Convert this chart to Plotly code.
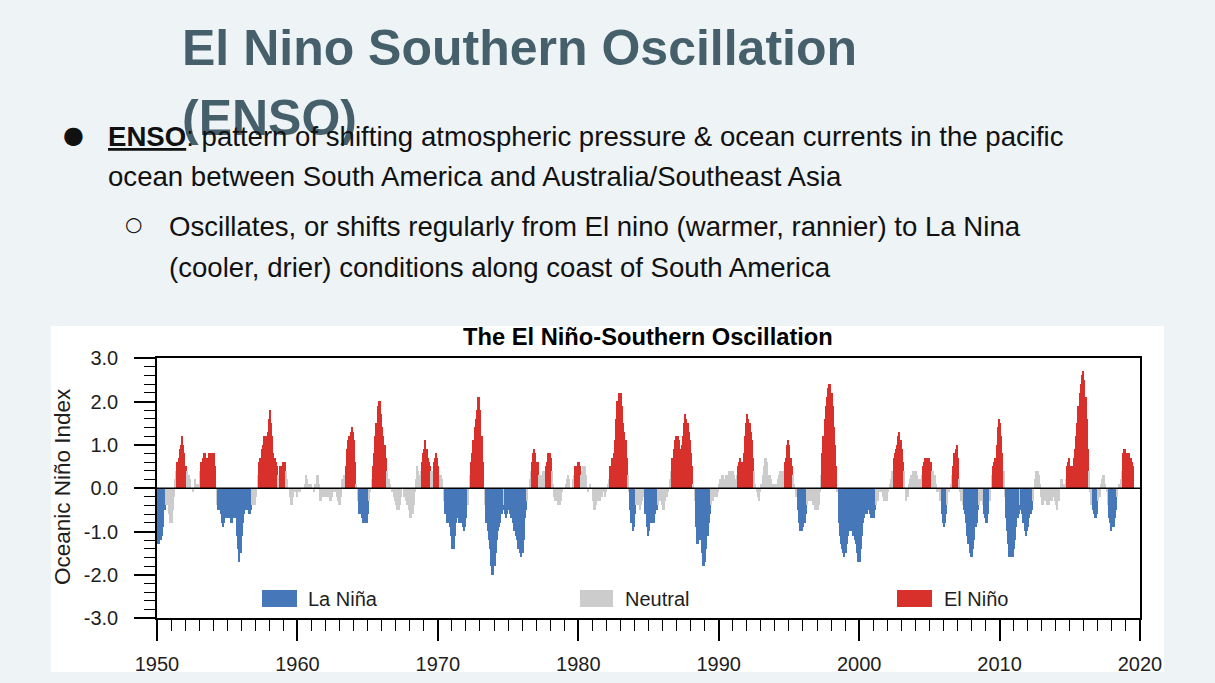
import plotly.graph_objects as go

# Oceanic Niño Index, 3-month running means (DJF ... NDJ)
oni_1950s = [
    -1.3, -1.3, -1.2, -1.2, -1.1, -0.9, -0.5, -0.4, -0.4, -0.4, -0.6, -0.8,
    -0.8, -0.5, -0.2, 0.2, 0.4, 0.6, 0.7, 0.9, 1.0, 1.2, 1.0, 0.8,
    0.5, 0.4, 0.3, 0.3, 0.2, 0.0, -0.1, 0.0, 0.2, 0.1, 0.0, 0.1,
    0.4, 0.6, 0.6, 0.7, 0.8, 0.8, 0.7, 0.7, 0.8, 0.8, 0.8, 0.8,
    0.8, 0.5, 0.0, -0.4, -0.5, -0.5, -0.6, -0.8, -0.9, -0.8, -0.7, -0.7,
    -0.7, -0.6, -0.7, -0.8, -0.8, -0.7, -0.7, -0.7, -1.1, -1.4, -1.7, -1.5,
    -1.1, -0.8, -0.6, -0.5, -0.5, -0.5, -0.6, -0.6, -0.5, -0.4, -0.4, -0.4,
    -0.2, 0.0, 0.3, 0.6, 0.7, 0.9, 1.0, 1.2, 1.1, 1.2, 1.3, 1.6,
    1.8, 1.5, 1.2, 0.8, 0.7, 0.6, 0.5, 0.3, 0.3, 0.5, 0.5, 0.6,
    0.6, 0.6, 0.4, 0.2, 0.0, -0.2, -0.4, -0.4, -0.2, -0.1, -0.1, -0.2,
]
oni_1960s = [
    -0.1, -0.1, -0.1, 0.0, 0.0, 0.0, 0.1, 0.3, 0.2, 0.1, 0.1, 0.1,
    0.0, 0.0, -0.1, 0.1, 0.3, 0.3, 0.1, -0.3, -0.3, -0.2, -0.1, -0.2,
    -0.2, -0.2, -0.2, -0.3, -0.3, -0.2, 0.0, -0.1, -0.1, -0.2, -0.3, -0.4,
    -0.4, -0.2, 0.2, 0.3, 0.3, 0.5, 0.9, 1.1, 1.2, 1.3, 1.4, 1.3,
    1.1, 0.6, 0.1, -0.3, -0.6, -0.6, -0.6, -0.7, -0.8, -0.8, -0.8, -0.8,
    -0.6, -0.3, -0.1, 0.2, 0.5, 0.8, 1.2, 1.5, 1.9, 2.0, 2.0, 1.7,
    1.4, 1.2, 1.0, 0.7, 0.4, 0.2, 0.2, 0.1, -0.1, -0.1, -0.2, -0.3,
    -0.4, -0.5, -0.5, -0.4, -0.2, 0.0, 0.0, -0.2, -0.3, -0.4, -0.4, -0.5,
    -0.7, -0.7, -0.6, -0.4, -0.1, 0.2, 0.5, 0.4, 0.3, 0.4, 0.6, 0.8,
    0.9, 1.1, 0.9, 0.7, 0.6, 0.5, 0.4, 0.4, 0.6, 0.7, 0.8, 0.7,
]
oni_1970s = [
    0.5, 0.3, 0.3, 0.2, 0.0, -0.3, -0.6, -0.8, -0.8, -0.7, -0.9, -1.1,
    -1.4, -1.4, -1.1, -0.8, -0.7, -0.7, -0.8, -0.8, -0.8, -0.9, -1.0, -0.9,
    -0.7, -0.4, 0.0, 0.3, 0.6, 0.8, 1.1, 1.4, 1.6, 1.8, 2.1, 2.1,
    1.8, 1.2, 0.6, 0.0, -0.4, -0.8, -1.0, -1.2, -1.4, -1.8, -2.0, -2.0,
    -1.8, -1.5, -1.2, -1.0, -0.9, -0.8, -0.6, -0.5, -0.4, -0.6, -0.7, -0.6,
    -0.5, -0.6, -0.7, -0.7, -0.8, -1.0, -1.1, -1.2, -1.4, -1.4, -1.5, -1.6,
    -1.5, -1.2, -0.7, -0.5, -0.3, 0.0, 0.2, 0.4, 0.6, 0.8, 0.9, 0.8,
    0.6, 0.6, 0.3, 0.3, 0.3, 0.4, 0.4, 0.4, 0.5, 0.6, 0.8, 0.8,
    0.7, 0.4, 0.1, -0.2, -0.3, -0.3, -0.4, -0.4, -0.4, -0.3, -0.1, 0.0,
    0.0, 0.1, 0.2, 0.3, 0.2, 0.0, 0.0, 0.2, 0.3, 0.5, 0.5, 0.6,
]
oni_1980s = [
    0.6, 0.5, 0.3, 0.4, 0.5, 0.5, 0.3, 0.0, -0.1, 0.0, 0.1, 0.0,
    -0.3, -0.5, -0.5, -0.4, -0.3, -0.3, -0.3, -0.2, -0.2, -0.1, -0.2, -0.1,
    0.0, 0.1, 0.2, 0.5, 0.7, 0.7, 0.8, 1.1, 1.6, 2.0, 2.2, 2.2,
    2.2, 1.9, 1.5, 1.3, 1.1, 0.7, 0.3, -0.1, -0.5, -0.8, -1.0, -0.9,
    -0.6, -0.4, -0.3, -0.4, -0.5, -0.4, -0.3, -0.2, -0.2, -0.6, -0.9, -1.1,
    -1.0, -0.8, -0.8, -0.8, -0.8, -0.6, -0.5, -0.5, -0.4, -0.3, -0.3, -0.4,
    -0.5, -0.5, -0.3, -0.2, -0.1, 0.0, 0.2, 0.4, 0.7, 0.9, 1.1, 1.2,
    1.2, 1.2, 1.1, 0.9, 1.0, 1.2, 1.5, 1.7, 1.6, 1.5, 1.3, 1.1,
    0.8, 0.5, 0.1, -0.3, -0.9, -1.3, -1.3, -1.1, -1.2, -1.5, -1.8, -1.8,
    -1.7, -1.4, -1.1, -0.8, -0.6, -0.4, -0.3, -0.3, -0.2, -0.2, -0.2, -0.1,
]
oni_1990s = [
    0.1, 0.2, 0.3, 0.3, 0.2, 0.2, 0.3, 0.3, 0.4, 0.3, 0.4, 0.4,
    0.4, 0.3, 0.2, 0.3, 0.5, 0.6, 0.7, 0.6, 0.6, 0.8, 1.2, 1.5,
    1.7, 1.6, 1.5, 1.3, 1.1, 0.7, 0.4, 0.1, -0.1, -0.2, -0.3, -0.1,
    0.1, 0.3, 0.5, 0.7, 0.7, 0.6, 0.3, 0.3, 0.2, 0.1, 0.0, 0.1,
    0.1, 0.1, 0.2, 0.3, 0.4, 0.4, 0.4, 0.4, 0.6, 0.7, 1.0, 1.1,
    1.0, 0.7, 0.5, 0.3, 0.1, 0.0, -0.2, -0.5, -0.8, -1.0, -1.0, -1.0,
    -0.9, -0.8, -0.6, -0.4, -0.3, -0.3, -0.3, -0.3, -0.4, -0.4, -0.5, -0.5,
    -0.5, -0.4, -0.1, 0.3, 0.8, 1.2, 1.6, 1.9, 2.1, 2.3, 2.4, 2.4,
    2.2, 1.9, 1.4, 1.0, 0.5, -0.1, -0.8, -1.1, -1.3, -1.4, -1.5, -1.6,
    -1.5, -1.3, -1.1, -1.0, -1.0, -1.0, -1.1, -1.1, -1.2, -1.3, -1.5, -1.7,
]
oni_2000s = [
    -1.7, -1.4, -1.1, -0.8, -0.7, -0.6, -0.6, -0.5, -0.5, -0.6, -0.7, -0.7,
    -0.7, -0.5, -0.4, -0.3, -0.3, -0.1, -0.1, -0.1, -0.2, -0.3, -0.3, -0.3,
    -0.1, 0.0, 0.1, 0.2, 0.4, 0.7, 0.8, 0.9, 1.0, 1.2, 1.3, 1.1,
    0.9, 0.6, 0.4, 0.0, -0.3, -0.2, 0.1, 0.2, 0.3, 0.3, 0.4, 0.4,
    0.4, 0.3, 0.2, 0.2, 0.2, 0.3, 0.5, 0.6, 0.7, 0.7, 0.7, 0.7,
    0.6, 0.6, 0.4, 0.4, 0.3, 0.1, -0.1, -0.1, -0.1, -0.3, -0.6, -0.8,
    -0.9, -0.8, -0.6, -0.4, -0.1, 0.0, 0.1, 0.3, 0.5, 0.8, 0.9, 1.0,
    0.7, 0.2, -0.1, -0.3, -0.4, -0.5, -0.6, -0.8, -1.1, -1.3, -1.5, -1.6,
    -1.6, -1.4, -1.2, -0.9, -0.8, -0.5, -0.4, -0.3, -0.3, -0.4, -0.6, -0.7,
    -0.8, -0.8, -0.6, -0.3, 0.0, 0.3, 0.5, 0.6, 0.7, 1.0, 1.4, 1.6,
]
oni_2010s = [
    1.5, 1.2, 0.8, 0.4, -0.2, -0.7, -1.0, -1.3, -1.6, -1.6, -1.6, -1.6,
    -1.4, -1.2, -0.9, -0.7, -0.6, -0.4, -0.5, -0.6, -0.8, -1.0, -1.1, -1.0,
    -0.9, -0.7, -0.6, -0.5, -0.3, 0.0, 0.2, 0.4, 0.4, 0.3, 0.1, -0.2,
    -0.4, -0.4, -0.3, -0.3, -0.4, -0.4, -0.4, -0.3, -0.3, -0.2, -0.2, -0.3,
    -0.4, -0.5, -0.3, 0.0, 0.2, 0.2, 0.0, 0.1, 0.2, 0.5, 0.6, 0.7,
    0.5, 0.5, 0.5, 0.7, 0.9, 1.2, 1.5, 1.9, 2.2, 2.4, 2.6, 2.7,
    2.5, 2.1, 1.6, 0.9, 0.4, -0.1, -0.4, -0.5, -0.6, -0.7, -0.7, -0.6,
    -0.3, -0.2, 0.1, 0.2, 0.3, 0.3, 0.1, -0.1, -0.4, -0.7, -0.8, -1.0,
    -0.9, -0.9, -0.7, -0.5, -0.2, 0.0, 0.1, 0.2, 0.4, 0.8, 0.9, 0.9,
    0.8, 0.8, 0.8, 0.7, 0.7, 0.6, 0.5,
]

start_year = 1950
x_ticks = [1950, 1960, 1970, 1980, 1990, 2000, 2010, 2020]
y_ticks = [-3.0, -2.0, -1.0, 0.0, 1.0, 2.0, 3.0]
phase_names = ["La Niña", "Neutral", "El Niño"]
phase_colors = {"La Niña": "#4677b8", "Neutral": "#cccccc", "El Niño": "#d8302a"}

oni = oni_1950s + oni_1960s + oni_1970s + oni_1980s + oni_1990s + oni_2000s + oni_2010s
n = len(oni)
x_time = [start_year + i / 12 + 1 / 24 for i in range(n)]

# classify episodes: 5 or more consecutive seasons beyond +/-0.5
phase = ["Neutral"] * n
for name, test in (("El Niño", lambda v: v >= 0.5), ("La Niña", lambda v: v <= -0.5)):
    i = 0
    while i < n:
        if test(oni[i]):
            j = i
            while j < n and test(oni[j]):
                j += 1
            if j - i >= 5:
                for k in range(i, j):
                    phase[k] = name
            i = j
        else:
            i += 1
colors = [phase_colors[p] for p in phase]

W, H = 1215, 683
def px(x):
    return x / W
def py(y):
    return 1 - y / H

fig = go.Figure()
fig.add_trace(go.Bar(
    x=x_time, y=oni, width=[1 / 12] * n,
    marker=dict(color=colors, line=dict(width=0)),
    showlegend=False, hoverinfo="x+y",
))

chart_font = "Liberation Sans, Arial, Helvetica, sans-serif"
slide_font = "Liberation Sans, Arial, sans-serif"
title_font = "Liberation Sans, Arial, sans-serif"
ink = "#1e1e1e"

fig.update_layout(
    width=W, height=H, autosize=False,
    margin=dict(l=0, r=0, t=0, b=0, pad=0, autoexpand=False),
    paper_bgcolor="#eef3f6",
    plot_bgcolor="white",
    bargap=0, barmode="overlay",
    showlegend=False,
    font=dict(family=chart_font, color=ink),
    xaxis=dict(
        domain=[px(157), px(1140)], range=[1950, 2020], automargin=False,
        tickvals=x_ticks, ticktext=[str(v) for v in x_ticks],
        showline=True, linecolor="black", linewidth=1.6, mirror=True,
        ticks="outside", ticklen=21, tickwidth=1.6, tickcolor="black",
        ticklabelstandoff=6,
        tickfont=dict(size=20, family=chart_font, color=ink),
        showgrid=False, zeroline=False,
        minor=dict(ticks="outside", ticklen=11, tickwidth=1.4, tickcolor="black",
                   dtick=1, tick0=1950, showgrid=False),
    ),
    yaxis=dict(
        domain=[py(618.3), py(358.3)], range=[-3, 3], automargin=False,
        tickvals=y_ticks, ticktext=["%.1f" % v for v in y_ticks],
        showline=True, linecolor="black", linewidth=1.6, mirror=True,
        ticks="outside", ticklen=21, tickwidth=1.6, tickcolor="black",
        ticklabelstandoff=12,
        tickfont=dict(size=20, family=chart_font, color=ink),
        showgrid=False, zeroline=False,
        minor=dict(ticks="outside", ticklen=11, tickwidth=1.4, tickcolor="black",
                   dtick=0.2, tick0=0, showgrid=False),
    ),
)

shapes = [
    # white chart image panel
    dict(type="rect", xref="paper", yref="paper", x0=px(51), x1=px(1164),
         y0=py(672), y1=py(326), fillcolor="white", line=dict(width=0), layer="below"),
    # zero line
    dict(type="line", xref="x", yref="y", x0=1950, x1=2020, y0=0, y1=0,
         line=dict(color="black", width=1.6), layer="above"),
]
annotations = []

# legend boxes inside plot
legend_boxes = [(262, 297, 306), (580, 613, 623), (897, 932, 942)]
for name, (x0, x1, tx) in zip(phase_names, legend_boxes):
    shapes.append(dict(type="rect", xref="paper", yref="paper", x0=px(x0), x1=px(x1),
                       y0=py(607), y1=py(590), fillcolor=phase_colors[name],
                       line=dict(width=0), layer="above"))
    annotations.append(dict(text=name, x=px(tx), y=py(599), xref="paper", yref="paper",
                            xanchor="left", yanchor="middle", showarrow=False,
                            font=dict(size=20, family=chart_font, color=ink)))

# chart title and y-axis title
annotations.append(dict(text="<b>The El Niño-Southern Oscillation</b>", x=px(648), y=py(337),
                        xref="paper", yref="paper", xanchor="center", yanchor="middle",
                        showarrow=False, font=dict(size=23.7, family=chart_font, color="black")))
annotations.append(dict(text="Oceanic Niño Index", x=px(62), y=py(487), textangle=-90,
                        xref="paper", yref="paper", xanchor="center", yanchor="middle",
                        showarrow=False, font=dict(size=22.5, family=chart_font, color=ink)))

# slide title
title_color = "#46606b"
annotations.append(dict(text="<b>El Nino Southern Oscillation</b>", x=px(180), y=py(48),
                        xref="paper", yref="paper", xanchor="left", yanchor="middle",
                        showarrow=False, font=dict(size=50, family=title_font, color=title_color)))
annotations.append(dict(text="<b>(ENSO)</b>", x=px(180), y=py(118),
                        xref="paper", yref="paper", xanchor="left", yanchor="middle",
                        showarrow=False, font=dict(size=50, family=title_font, color=title_color)))

# slide bullets
body = dict(size=27.6, family=slide_font, color="#111111")
annotations.append(dict(text="●", x=px(61), y=py(135), xref="paper", yref="paper",
                        xanchor="left", yanchor="middle", showarrow=False,
                        font=dict(size=24, family="DejaVu Sans", color="#111111")))
annotations.append(dict(
    text="<span style='text-decoration:underline'><b>ENSO</b></span>: pattern of shifting atmospheric pressure &amp; ocean currents in the pacific",
    x=px(106), y=py(136), xref="paper", yref="paper", xanchor="left", yanchor="middle",
    showarrow=False, font=body))
annotations.append(dict(text="ocean between South America and Australia/Southeast Asia",
                        x=px(106), y=py(177), xref="paper", yref="paper", xanchor="left",
                        yanchor="middle", showarrow=False, font=body))
annotations.append(dict(text="○", x=px(123), y=py(224), xref="paper", yref="paper",
                        xanchor="left", yanchor="middle", showarrow=False,
                        font=dict(size=20, family="DejaVu Sans", color="#111111")))
annotations.append(dict(text="Oscillates, or shifts regularly from El nino (warmer, rannier) to La Nina",
                        x=px(167), y=py(226), xref="paper", yref="paper", xanchor="left",
                        yanchor="middle", showarrow=False, font=body))
annotations.append(dict(text="(cooler, drier) conditions along coast of South America",
                        x=px(167), y=py(267), xref="paper", yref="paper", xanchor="left",
                        yanchor="middle", showarrow=False, font=body))

fig.update_layout(shapes=shapes, annotations=annotations)
fig.write_html("out.html")
